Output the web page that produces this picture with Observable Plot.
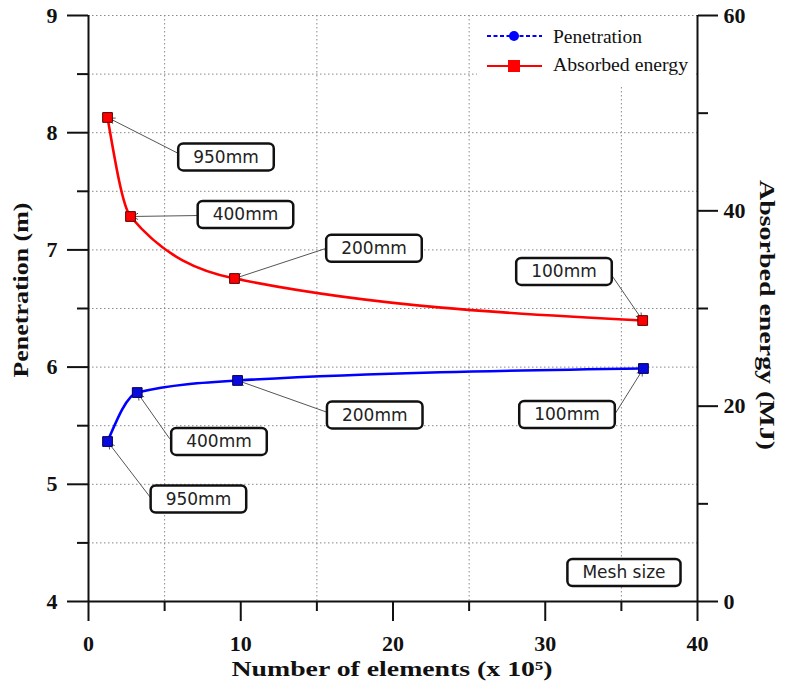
<!DOCTYPE html>
<html><head><meta charset="utf-8">
<script src="https://cdn.jsdelivr.net/npm/d3@7"></script>
<script src="https://cdn.jsdelivr.net/npm/@observablehq/plot@0.6"></script>
<style>body{margin:0;background:#fff}</style>
</head><body><div id="chart"></div>
<script>
// ---- data (number of elements in units of 10^5) ----
const meshSizes = ["950mm", "400mm", "200mm", "100mm"];
const penElements = [1.25, 3.2, 9.79, 36.45];
const penetration = [5.365, 5.783, 5.886, 5.988];          // m
const energyElements = [1.25, 2.76, 9.59, 36.4];
const energy = [49.56, 39.42, 33.07, 28.77];               // MJ

// annotation label anchors (data coordinates) and leader-line starts
const penLabelX = [7.22, 8.57, 18.8, 31.43];
const penLabelY = [4.870, 5.361, 5.587, 5.591];
const penLeadX = [4.07, 5.32, 15.9, 34.6];
const penLeadY = [4.887, 5.391, 5.604, 5.604];
const energyLabelX = [9.03, 10.31, 18.75, 31.23];
const energyLabelY = [45.46, 39.57, 36.10, 33.74];
const energyLeadX = [5.91, 7.22, 15.57, 34.29];
const energyLeadY = [45.87, 39.52, 36.14, 33.58];
const noteText = "Mesh size";
const noteX = 35.17, noteY = 4.243;

// axes ticks
const xMajor = [0, 10, 20, 30, 40];
const xMinor = [5, 15, 25, 35];
const yMajor = [4, 5, 6, 7, 8, 9];
const yMinor = [4.5, 5.5, 6.5, 7.5, 8.5];
const eMajor = [0, 20, 40, 60];
const eMinor = [10, 30, 50];

// energy (0..60 MJ) shown on the right axis, mapped onto the left scale (4..9 m)
const toY = e => 4 + e / 12;
const fromY = y => String(Math.round((y - 4) * 12));

const pen = meshSizes.map((m, i) => ({mesh: m, x: penElements[i], y: penetration[i],
  lx: penLabelX[i], ly: penLabelY[i], ax: penLeadX[i], ay: penLeadY[i]}));
const en = meshSizes.map((m, i) => ({mesh: m, x: energyElements[i], y: energy[i],
  lx: energyLabelX[i], ly: energyLabelY[i], ax: energyLeadX[i], ay: energyLeadY[i]}));
const labels = [
  ...pen.map(d => ({text: d.mesh, x: d.lx, y: d.ly})),
  ...en.map(d => ({text: d.mesh, x: d.lx, y: toY(d.ly)})),
  {text: noteText, x: noteX, y: noteY}
];

const serif = "Liberation Serif, Times New Roman, serif";
const tickFont = {fontFamily: serif, fontWeight: "bold", fontSize: 22, strokeWidth: 2, color: "#111"};

const chart = Plot.plot({
  width: 786, height: 689,
  marginLeft: 88, marginRight: 89, marginTop: 15, marginBottom: 88,
  x: {domain: [0, 40]},
  y: {domain: [4, 9]},
  style: {background: "#fff", color: "#111", fontFamily: serif},
  marks: [
    Plot.gridX(xMinor, {stroke: "#888", strokeOpacity: 1, strokeDasharray: "1.5,2.5"}),
    Plot.gridY([...yMinor, 5, 6, 7, 8, 9], {stroke: "#888", strokeOpacity: 1, strokeDasharray: "1.5,2.5"}),
    Plot.axisX(xMajor, {...tickFont, tickSize: 20, tickPadding: 14, tickFormat: d => String(d), label: null}),
    Plot.axisX(xMinor, {...tickFont, tickSize: 10, tickFormat: () => "", label: null}),
    Plot.axisY(yMajor, {...tickFont, tickSize: 21, tickPadding: 10, tickFormat: d => String(d), label: null}),
    Plot.axisY(yMinor, {...tickFont, tickSize: 11, tickFormat: () => "", label: null}),
    Plot.axisY(eMajor.map(toY), {...tickFont, anchor: "right", tickSize: 20, tickPadding: 6, tickFormat: fromY, label: null}),
    Plot.axisY(eMinor.map(toY), {...tickFont, anchor: "right", tickSize: 10, tickFormat: () => "", label: null}),
    Plot.ruleX([0, 40], {stroke: "#111", strokeWidth: 2}),
    Plot.ruleY([4], {stroke: "#111", strokeWidth: 2}),
    Plot.arrow(pen, {x1: "ax", y1: "ay", x2: "x", y2: "y", stroke: "#555", strokeWidth: 1, headLength: 9, insetEnd: 2}),
    Plot.arrow(en, {x1: "ax", y1: d => toY(d.ay), x2: "x", y2: d => toY(d.y), stroke: "#555", strokeWidth: 1, headLength: 9, insetEnd: 2}),
    Plot.line(pen, {x: "x", y: "y", stroke: "#0000ff", strokeWidth: 2.6, curve: "monotone-x"}),
    Plot.line(en, {x: "x", y: d => toY(d.y), stroke: "#ff0000", strokeWidth: 2.6, curve: "monotone-x"}),
    Plot.dot(pen, {x: "x", y: "y", symbol: "square", r: 5.5, fill: "#0a0adf", stroke: "#000050", strokeWidth: 1}),
    Plot.dot(en, {x: "x", y: d => toY(d.y), symbol: "square", r: 5.5, fill: "#ff0000", stroke: "#5a0000", strokeWidth: 1}),
    Plot.text(labels, {x: "x", y: "y", text: "text", fontFamily: "DejaVu Sans, sans-serif", fontSize: 17, fontWeight: "normal", fill: "#222"})
  ]
});
document.getElementById("chart").append(chart);

const svg = d3.select(chart);
// force serif bold on axis tick labels
svg.selectAll('g[aria-label$="tick label"]').style("font-family", serif).style("font-weight", "bold").style("font-size", "22px");

// rounded boxes behind annotation labels
svg.selectAll('g[aria-label="text"] text').each(function () {
  const b = this.getBBox();
  const cy = b.y + b.height / 2;
  d3.select(this.parentNode).insert("rect", () => this)
    .attr("transform", this.getAttribute("transform"))
    .attr("x", b.x - 15).attr("y", cy - 13.5)
    .attr("width", b.width + 30).attr("height", 27)
    .attr("rx", 5).attr("fill", "#fff").attr("stroke", "#111").attr("stroke-width", 2.5);
});

// legend
const lg = svg.append("g").attr("text-anchor", "start");
lg.append("rect").attr("x", 477).attr("y", 19).attr("width", 219).attr("height", 67).attr("fill", "#fff");
lg.append("line").attr("x1", 487).attr("x2", 542).attr("y1", 36).attr("y2", 36)
  .attr("stroke", "#0000ff").attr("stroke-width", 2).attr("stroke-dasharray", "4,2.5");
lg.append("circle").attr("cx", 514).attr("cy", 36).attr("r", 5).attr("fill", "#0000ff");
lg.append("line").attr("x1", 487).attr("x2", 542).attr("y1", 66).attr("y2", 66)
  .attr("stroke", "#ff0000").attr("stroke-width", 2);
lg.append("rect").attr("x", 508).attr("y", 60).attr("width", 12).attr("height", 12).attr("fill", "#ff0000");
lg.append("text").attr("x", 553).attr("y", 43).text("Penetration")
  .attr("font-family", serif).attr("font-size", 18).attr("fill", "#111")
  .attr("textLength", 89).attr("lengthAdjust", "spacingAndGlyphs");
lg.append("text").attr("x", 553).attr("y", 71).text("Absorbed energy")
  .attr("font-family", serif).attr("font-size", 18).attr("fill", "#111")
  .attr("textLength", 135).attr("lengthAdjust", "spacingAndGlyphs");

// axis titles
svg.append("text").attr("x", 392).attr("y", 676).attr("text-anchor", "middle")
  .attr("font-family", serif).attr("font-weight", "bold").attr("font-size", 22).attr("fill", "#111")
  .attr("textLength", 321).attr("lengthAdjust", "spacingAndGlyphs")
  .text("Number of elements (x 10⁵)");
svg.append("text").attr("transform", "translate(28,290) rotate(-90)").attr("text-anchor", "middle")
  .attr("font-family", serif).attr("font-weight", "bold").attr("font-size", 22).attr("fill", "#111")
  .attr("textLength", 175).attr("lengthAdjust", "spacingAndGlyphs")
  .text("Penetration (m)");
svg.append("text").attr("transform", "translate(760,315) rotate(90)").attr("text-anchor", "middle")
  .attr("font-family", serif).attr("font-weight", "bold").attr("font-size", 22).attr("fill", "#111")
  .attr("textLength", 270).attr("lengthAdjust", "spacingAndGlyphs")
  .text("Absorbed energy (MJ)");
</script>
</body></html>
